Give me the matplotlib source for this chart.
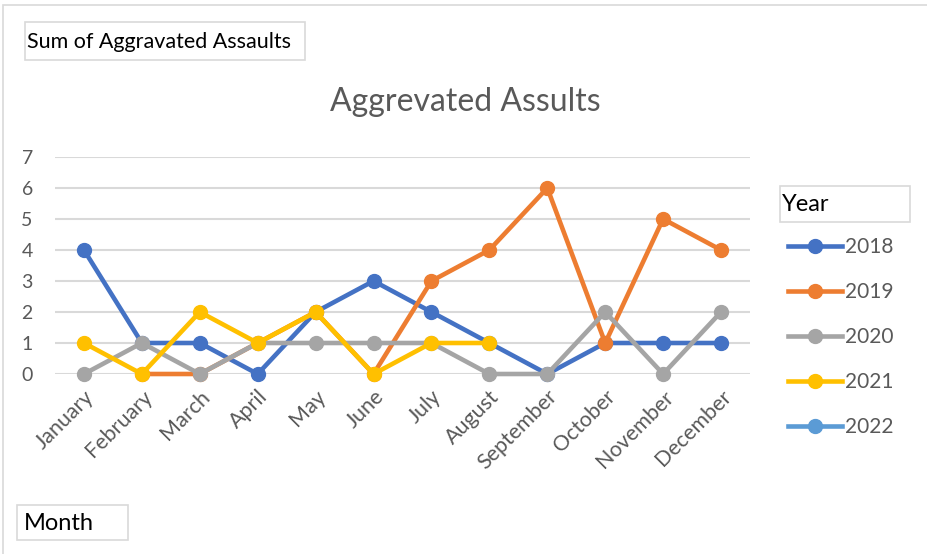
import numpy as np
import matplotlib.pyplot as plt
from matplotlib.patches import Rectangle

plt.rcParams['font.family'] = ['Lato', 'DejaVu Sans']

meses = ['January', 'February', 'March', 'April', 'May', 'June', 'July',
         'August', 'September', 'October', 'November', 'December']
n = np.nan
a2018 = [4, 1, 1, 0, 2, 3, 2, 1, 0, 1, 1, 1]
a2019 = [n, 0, 0, 1, 2, 0, 3, 4, 6, 1, 5, 4]
a2020 = [0, 1, 0, 1, 1, 1, 1, 0, 0, 2, 0, 2]
a2021 = [1, 0, 2, 1, 2, 0, 1, 1, n, n, n, n]
a2022 = [n] * 12

series = [('2018', a2018, '#4472C4'), ('2019', a2019, '#ED7D31'),
          ('2020', a2020, '#A5A5A5'), ('2021', a2021, '#FFC000'),
          ('2022', a2022, '#5B9BD5')]

W, H = 927, 554
gris = '#595959'

def caja(x0, y0, x1, y1):
    # rectangulo en pixeles (origen arriba a la izquierda)
    return Rectangle((x0 / W, 1 - y1 / H), (x1 - x0) / W, (y1 - y0) / H,
                     transform=fig.transFigure, fill=False,
                     edgecolor='#D9D9D9', linewidth=1.2)

fig = plt.figure(figsize=(W / 100, H / 100), dpi=100)
fig.patch.set_facecolor('white')
ax = fig.add_axes([55 / W, 1 - 374 / H, 695 / W, 217 / H])

x = np.arange(len(meses))
for nombre, vals, color in series:
    ax.plot(x, vals, '-o', color=color, lw=3.3, markersize=10,
            label=nombre, clip_on=False, zorder=3)

ax.set_xlim(-0.5, 11.5)
ax.set_ylim(0, 7)
ax.set_yticks(range(8))
ax.yaxis.grid(True, color='#D9D9D9', lw=1.5)
ax.set_axisbelow(True)
for s in ax.spines.values():
    s.set_visible(False)
ax.tick_params(length=0, labelcolor=gris)
ax.tick_params(axis='y', pad=16, labelsize=14)
ax.set_xticks(x)
ax.set_xticklabels(meses, rotation=45, ha='right', rotation_mode='anchor')
ax.tick_params(axis='x', pad=9, labelsize=15.5)

fig.text(465 / W, 1 - 102 / H, 'Aggrevated Assults', fontsize=23,
         color=gris, ha='center', va='center')

# borde exterior y cajas de campos
fig.add_artist(Rectangle((3 / W, -0.1), 1.1, 1 - 5 / H + 0.1,
                         transform=fig.transFigure, fill=False,
                         edgecolor='#D9D9D9', linewidth=1.2))
fig.add_artist(caja(25, 22, 305, 60))
fig.text(27 / W, 1 - 42 / H, 'Sum of Aggravated Assaults', fontsize=15.5,
         color='black', va='center')
fig.add_artist(caja(780, 186, 910, 222))
fig.text(782 / W, 1 - 205 / H, 'Year', fontsize=17, color='black', va='center')
fig.add_artist(caja(17, 505, 128, 540))
fig.text(24 / W, 1 - 523 / H, 'Month', fontsize=17, color='black', va='center')

leg = fig.legend(loc='upper left', bbox_to_anchor=(788 / W, 1 - 237 / H),
                 frameon=False, fontsize=15, labelcolor=gris,
                 handlelength=2.6, handletextpad=0.15, labelspacing=1.2,
                 borderpad=0, borderaxespad=0)

plt.savefig('out.png', dpi=100)
